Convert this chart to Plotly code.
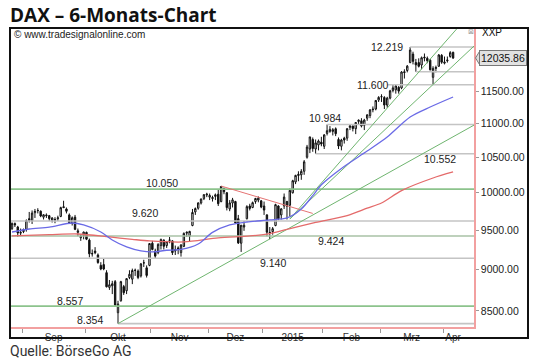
import numpy as np
import pandas as pd
import plotly.graph_objects as go

# ---------------- trading calendar (Xetra) ----------------
dates = pd.bdate_range("2014-08-26", "2015-04-08")
holidays = pd.to_datetime(["2014-12-24", "2014-12-25", "2014-12-26", "2014-12-31",
                           "2015-01-01", "2015-04-03", "2015-04-06"])
dates = dates[~dates.isin(holidays)]

# ---------------- OHLC data ----------------
opens = [9520, 9585, 9540, 9460,
         9480, 9510, 9650, 9620, 9730, 9760, 9750, 9670, 9700, 9690, 9630, 9640, 9650, 9680, 9810, 9780, 9700, 9590, 9670, 9470, 9400, 9430,
         9470, 9370, 9200, 9230, 9180, 9050, 9060, 8960, 8780, 8800, 8850, 8480, 8620, 8790, 8740, 8900, 8880, 8990, 8980, 8920, 9080, 9020, 9050,
         9330, 9230, 9210, 9300, 9370, 9300, 9370, 9360, 9230, 9270, 9210, 9290, 9460, 9420, 9560, 9740, 9790, 9860, 9920, 9970,
         9940, 9920, 9950, 9980, 9880, 10060, 10000, 9780, 9860, 9880, 9650, 9330, 9540, 9650, 9820, 9800, 9880, 9900, 9890,
         9820, 9700, 9460, 9480, 9560, 9820, 9700, 9820, 9880, 9830, 10000, 10150, 10240, 10250, 10300, 10500, 10620, 10760, 10620, 10680, 10720,
         10660, 10850, 10880, 10880, 10920, 10760, 10660, 10780, 10780, 10940, 10960, 10920, 11030, 11040, 10970, 11080, 11120, 11220, 11220, 11360,
         11410, 11400, 11280, 11390, 11510, 11520, 11560, 11550, 11810, 11830, 11960, 12100, 11960, 11960, 11920, 12050, 12030, 12000, 11720, 11880, 11900, 12080,
         11950, 11990, 12060, 12130]
highs = [9600, 9600, 9555, 9520,
         9520, 9640, 9740, 9760, 9780, 9790, 9760, 9710, 9720, 9700, 9670, 9670, 9690, 9810, 9891, 9800, 9720, 9680, 9700, 9520, 9440, 9480,
         9480, 9390, 9250, 9280, 9200, 9090, 9130, 8990, 8870, 8860, 8870, 8620, 8860, 8810, 8890, 8990, 9010, 9010, 9000, 9080, 9120, 9050, 9330,
         9360, 9260, 9330, 9390, 9380, 9360, 9410, 9370, 9300, 9290, 9320, 9470, 9480, 9490, 9780, 9800, 9870, 9920, 9980, 10000,
         9990, 9960, 9990, 10050, 10093, 10070, 10010, 9900, 9930, 9890, 9700, 9560, 9620, 9830, 9850, 9880, 9930, 9950, 9900,
         9880, 9710, 9540, 9540, 9850, 9830, 9790, 9990, 9890, 10060, 10180, 10250, 10300, 10330, 10460, 10680, 10800, 10790, 10760, 10760, 10800,
         10840, 10984, 10960, 10930, 10940, 10790, 10770, 10800, 10930, 10980, 10970, 11020, 11060, 11080, 11070, 11140, 11220, 11260, 11360, 11420,
         11450, 11420, 11410, 11520, 11600, 11600, 11580, 11820, 11850, 11920, 12219, 12140, 12020, 12030, 12060, 12110, 12060, 12020, 11900, 11910, 12100, 12100,
         12060, 12060, 12150, 12140]
lows = [9500, 9540, 9410, 9420,
        9460, 9480, 9600, 9580, 9660, 9720, 9670, 9640, 9660, 9620, 9600, 9590, 9620, 9670, 9790, 9720, 9580, 9560, 9500, 9420, 9360, 9380,
        9370, 9150, 9160, 9190, 9070, 8990, 8990, 8780, 8750, 8700, 8560, 8354, 8610, 8690, 8700, 8880, 8820, 8920, 8880, 8900, 9030, 8900, 9040,
        9240, 9130, 9190, 9250, 9250, 9270, 9330, 9180, 9180, 9190, 9160, 9280, 9410, 9350, 9550, 9700, 9770, 9840, 9900, 9940,
        9900, 9880, 9900, 9820, 9870, 9980, 9760, 9750, 9800, 9580, 9320, 9219, 9490, 9640, 9760, 9790, 9850, 9870, 9790,
        9700, 9420, 9382, 9440, 9550, 9630, 9640, 9780, 9640, 9680, 9990, 10120, 10160, 10180, 10250, 10480, 10560, 10580, 10552, 10600, 10660,
        10620, 10820, 10860, 10820, 10810, 10620, 10600, 10700, 10740, 10900, 10880, 10840, 10980, 10940, 10900, 11040, 11080, 11170, 11200, 11330,
        11330, 11220, 11240, 11370, 11480, 11460, 11460, 11530, 11700, 11800, 11950, 11930, 11810, 11880, 11850, 11980, 11950, 11830, 11600, 11800, 11890, 11940,
        11930, 11960, 12040, 12020]
closes = [9588, 9569, 9462, 9470,
          9507, 9626, 9627, 9725, 9747, 9758, 9686, 9702, 9691, 9651, 9659, 9632, 9661, 9798, 9800, 9749, 9595, 9662, 9510, 9490, 9422, 9474,
          9382, 9195, 9195, 9209, 9086, 9005, 9005, 8788, 8812, 8825, 8571, 8582, 8850, 8717, 8887, 8940, 8987, 8988, 8902, 9068, 9082, 8926, 9326,
          9251, 9166, 9315, 9377, 9291, 9352, 9369, 9210, 9248, 9252, 9306, 9456, 9472, 9483, 9733, 9785, 9861, 9915, 9974, 9980,
          9963, 9934, 9972, 9851, 10087, 10014, 9799, 9862, 9903, 9594, 9334, 9564, 9563, 9811, 9787, 9865, 9922, 9927, 9806,
          9765, 9473, 9469, 9518, 9838, 9649, 9781, 9941, 9817, 10032, 10167, 10242, 10257, 10299, 10435, 10649, 10798, 10628, 10710, 10738, 10694,
          10828, 10891, 10911, 10905, 10846, 10664, 10752, 10752, 10920, 10963, 10924, 11014, 11050, 10961, 11051, 11130, 11206, 11211, 11353, 11401,
          11413, 11281, 11390, 11504, 11551, 11582, 11500, 11806, 11799, 11901, 12168, 11980, 11923, 11899, 12040, 12039, 11990, 11843, 11865, 11868, 12086, 11966,
          11968, 12001, 12124, 12035.86]
assert len(dates) == len(closes)

# moving averages (at sample dates)
blue_dates = ["2014-08-26", "2014-09-03", "2014-09-12", "2014-09-24", "2014-09-30", "2014-10-08", "2014-10-14",
              "2014-10-21", "2014-10-28", "2014-11-03", "2014-11-10", "2014-11-17", "2014-11-25", "2014-12-02",
              "2014-12-10", "2014-12-18", "2015-01-06", "2015-01-14", "2015-01-21", "2015-01-27", "2015-01-30",
              "2015-02-10", "2015-02-23", "2015-03-04", "2015-03-16", "2015-03-25", "2015-04-08"]
blue_vals = [9475, 9514, 9540, 9593, 9567, 9475, 9372, 9283, 9232, 9219, 9240, 9250, 9320, 9470,
             9567, 9606, 9633, 9660, 9780, 9960, 10110, 10340, 10590, 10797, 11098, 11251, 11407]
red_dates = ["2014-08-26", "2014-09-12", "2014-09-26", "2014-10-13", "2014-10-23", "2014-10-31", "2014-11-18",
             "2014-12-04", "2014-12-19", "2015-01-06", "2015-01-14", "2015-01-28", "2015-02-12", "2015-02-23",
             "2015-03-02", "2015-03-11", "2015-03-26", "2015-04-08"]
red_vals = [9424, 9440, 9449, 9411, 9380, 9359, 9346, 9398, 9424, 9455, 9510, 9600, 9690, 9790,
            9861, 10030, 10205, 10290]

# horizontal support / resistance levels
level_vals = [12219, 11810, 11600, 10984, 10552, 10050, 9620, 9424, 9140, 8557, 8354]
level_from = ["2015-03-16", "2015-03-18", "2015-03-04", "2015-02-03", "2015-01-28",
              None, None, None, None, None, "2014-10-16"]
level_kind = ["grey", "grey", "grey", "grey", "grey", "green", "grey", "greengrey", "grey", "green", "grey"]
level_text = ["12.219", "", "11.600", "10.984", "10.552", "10.050", "9.620", "9.424", "9.140", "8.557", "8.354"]

# trend lines: two anchors each (date, price)
fan_lines = [("2014-10-16", 8354, "2015-04-08", 10800),
             ("2015-01-15", 9646, "2015-04-08", 12456),
             ("2015-01-15", 9646, "2015-04-08", 11909)]
red_trend = ("2014-12-05", 10093, "2015-01-27", 9720)

y_ticks = [8500, 9000, 9500, 10000, 10500, 11000, 11500]
month_names = {9: "Sep", 10: "Okt", 11: "Nov", 12: "Dez", 1: "2015", 2: "Feb", 3: "Mrz", 4: "Apr"}

# ---------------- helpers ----------------
xpos = {d: i for i, d in enumerate(dates)}
def P(d):
    return xpos[pd.Timestamp(d)]

bars = np.arange(len(dates))
X0, X1 = -0.36, 161.3
Y0, Y1 = np.log10(8315), np.log10(12525)

W, H = 540, 361
ML, MR, MT, MB = 11, 66, 29, 34
pw, ph = W - ML - MR, H - MT - MB
def px(xp):
    return (xp - ML) / pw
def py(yp):
    return (H - MB - yp) / ph
def vy(v):
    return float((np.log10(v) - Y0) / (Y1 - Y0))

colors = {"grey": "#c4c4c4", "green": "#8cc38c", "greengrey": "#a9c2a6"}
PINK = "#f2a0a0"

fig = go.Figure()

for v, f, k in zip(level_vals, level_from, level_kind):
    xs = P(f) if f else X0
    fig.add_trace(go.Scatter(x=[xs, X1], y=[v, v], mode="lines",
                             line=dict(color=colors[k], width=1.6),
                             hoverinfo="skip", showlegend=False))

def extend(a):
    d0, v0, d1, v1 = a
    x0, x1 = P(d0), P(d1)
    slope = (np.log10(v1) - np.log10(v0)) / (x1 - x0)
    xe = X1 + 2
    return [x0, xe], [v0, 10 ** (np.log10(v0) + slope * (xe - x0))]

for a in fan_lines:
    xx, yy = extend(a)
    fig.add_trace(go.Scatter(x=xx, y=yy, mode="lines", line=dict(color="#6fb56f", width=1),
                             hoverinfo="skip", showlegend=False))

fig.add_trace(go.Scatter(x=[P(red_trend[0]), P(red_trend[2])], y=[red_trend[1], red_trend[3]],
                         mode="lines", line=dict(color="#e57373", width=1),
                         hoverinfo="skip", showlegend=False))

fig.add_trace(go.Scatter(x=[P(d) for d in red_dates], y=red_vals, mode="lines",
                         line=dict(color="#e46a6a", width=1.3, shape="spline", smoothing=0.8),
                         hoverinfo="skip", showlegend=False))
fig.add_trace(go.Scatter(x=[P(d) for d in blue_dates], y=blue_vals, mode="lines",
                         line=dict(color="#6a6ae6", width=1.3, shape="spline", smoothing=0.8),
                         hoverinfo="skip", showlegend=False))

fig.add_trace(go.Candlestick(x=bars, open=opens, high=highs, low=lows, close=closes,
                             increasing=dict(line=dict(color="#111111", width=1), fillcolor="white"),
                             decreasing=dict(line=dict(color="#111111", width=1), fillcolor="#111111"),
                             whiskerwidth=0, showlegend=False, hoverinfo="skip"))

# month ticks
months = dates.month
bounds = [i - 0.5 for i in range(1, len(dates)) if months[i] != months[i - 1]]
lab_pos, lab_txt = [], []
edges = bounds + [len(dates) + 2.5]
for j in range(len(bounds)):
    lab_pos.append((edges[j] + edges[j + 1]) / 2)
    lab_txt.append(month_names[months[int(bounds[j] + 0.5)]])

fig.update_layout(
    width=W, height=H, margin=dict(l=ML, r=MR, t=MT, b=MB),
    paper_bgcolor="white", plot_bgcolor="white",
    font=dict(family="Liberation Sans, Arial, sans-serif", color="#222"),
    xaxis=dict(range=[X0, X1], showgrid=False, zeroline=False, showline=True,
               linecolor=PINK, linewidth=1.5, rangeslider=dict(visible=False),
               tickmode="array", tickvals=lab_pos, ticktext=lab_txt, ticks="",
               tickfont=dict(size=10, color="#333"),
               minor=dict(tickmode="array", tickvals=bounds, ticks="outside",
                          ticklen=4, tickcolor="#999", showgrid=False)),
    yaxis=dict(type="log", side="right", range=[Y0, Y1], showgrid=False, zeroline=False,
               showline=True, linecolor=PINK, linewidth=1.5,
               tickmode="array", tickvals=y_ticks, ticktext=[f"{t:.2f}" for t in y_ticks],
               ticks="outside", ticklen=3, tickcolor="#999",
               tickfont=dict(size=10.5, color="#222")),
)

# level labels: (x bar, y shift px)
label_place = {"12.219": (130.9, 0), "11.600": (125.7, 0), "10.984": (109.3, 7), "10.552": (149.4, -5),
               "10.050": (52.4, 6), "9.620": (46.4, 8), "9.424": (111.4, -5), "9.140": (91.1, -5),
               "8.557": (20.1, 5), "8.354": (27.2, 4)}
for v, t in zip(level_vals, level_text):
    if not t:
        continue
    xx, sh = label_place[t]
    fig.add_annotation(x=xx, y=np.log10(v), xref="x", yref="y", text=t, showarrow=False,
                       xanchor="center", yanchor="middle", yshift=sh,
                       font=dict(size=10.5, color="#222"))

# price box with pointer
last = closes[-1]
yb = vy(last)
hh = 6.5 / ph
tip = (f"M {px(475.5):.5f} {yb:.5f} L {px(479.5):.5f} {yb + hh:.5f} "
       f"L {px(479.5):.5f} {yb - hh:.5f} Z")
fig.add_shape(type="path", xref="paper", yref="paper", path=tip,
              fillcolor="#dedede", line=dict(color="#777", width=1), layer="above")
fig.add_annotation(x=px(479), y=yb, xref="paper", yref="paper",
                   text=f"{last:.2f}", showarrow=False, xanchor="left", yanchor="middle",
                   bgcolor="#e2e2e2", bordercolor="#777", borderwidth=1, borderpad=1,
                   font=dict(size=10.5, color="#111"))
fig.add_annotation(x=px(480), y=py(33), xref="paper", yref="paper", text="XXP", showarrow=False,
                   xanchor="left", yanchor="middle", font=dict(size=10, color="#111"))
fig.add_annotation(x=px(471), y=py(32), xref="paper", yref="paper", text="⊠", showarrow=False,
                   xanchor="center", yanchor="middle", font=dict(family="DejaVu Sans", size=7, color="#999"))
fig.add_annotation(x=px(12), y=py(34), xref="paper", yref="paper", text="© www.tradesignalonline.com",
                   showarrow=False, xanchor="left", yanchor="middle", font=dict(size=10, color="#222"))

# title & source
fig.add_annotation(x=px(8), y=py(15), xref="paper", yref="paper", text="<b>DAX – 6-Monats-Chart</b>",
                   showarrow=False, xanchor="left", yanchor="middle",
                   font=dict(family="Open Sans, sans-serif", size=19, color="#111"))
fig.add_annotation(x=px(8), y=py(351), xref="paper", yref="paper", text="Quelle: BörseGo AG",
                   showarrow=False, xanchor="left", yanchor="middle",
                   font=dict(family="Liberation Sans Narrow, Roboto, sans-serif", size=14, color="#333"))

# outer frame
fig.add_shape(type="rect", xref="paper", yref="paper", x0=px(10), x1=px(528), y0=py(338), y1=py(28),
              line=dict(color="#111", width=2), layer="above")

fig.write_html("out.html", config={"displayModeBar": False},
               post_script="document.body.style.margin='0';document.body.style.padding='0';")
